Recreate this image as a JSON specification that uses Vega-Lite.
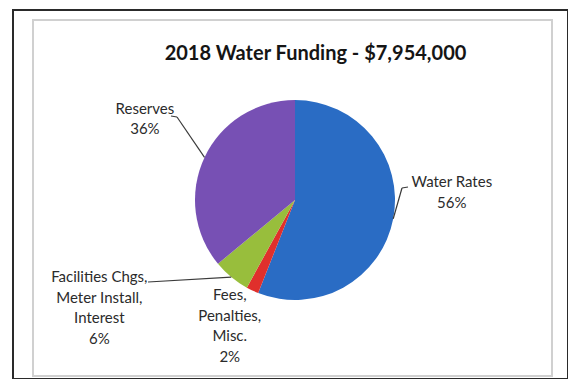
{
  "$schema": "https://vega.github.io/schema/vega-lite/v6.json",
  "width": 555,
  "height": 369,
  "autosize": {"type": "none"},
  "padding": {"left": 13, "top": 10, "right": 0, "bottom": 0},
  "background": "white",
  "title": {
    "text": "2018 Water Funding - $7,954,000",
    "font": "Lato",
    "fontSize": 20,
    "fontWeight": "bold",
    "color": "#151515",
    "anchor": "middle",
    "frame": "group",
    "baseline": "alphabetic",
    "offset": 0,
    "dx": 25,
    "dy": 70
  },
  "config": {"view": {"stroke": "#2a2a2a", "strokeWidth": 2}},
  "data": {
    "values": [
      {"cat": "Water Rates", "value": 56, "order": 1, "label": "Water Rates\n56%"},
      {"cat": "Fees", "value": 2, "order": 2, "label": "Fees,\nPenalties,\nMisc.\n2%"},
      {"cat": "Facilities", "value": 6, "order": 3, "label": "Facilities Chgs,\nMeter Install,\nInterest\n6%"},
      {"cat": "Reserves", "value": 36, "order": 4, "label": "Reserves\n36%"}
    ]
  },
  "transform": [
    {"stack": "value", "groupby": [], "sort": [{"field": "order", "order": "ascending"}], "as": ["v0", "v1"]},
    {"calculate": "(datum.v0 + datum.v1) / 2", "as": "mid"},
    {"calculate": "datum.mid / 100 * 2 * PI", "as": "a"},
    {"calculate": "100 * sin(datum.a)", "as": "sx"},
    {"calculate": "100 * cos(datum.a)", "as": "sy"},
    {"calculate": "datum.cat === 'Reserves' ? -118 : datum.cat === 'Water Rates' ? 107 : -147", "as": "ex"},
    {"calculate": "datum.cat === 'Reserves' ? 83 : datum.cat === 'Water Rates' ? 12 : -82", "as": "ey"},
    {"calculate": "datum.cat === 'Reserves' ? -124 : datum.cat === 'Water Rates' ? 113 : -147", "as": "tx"},
    {"calculate": "datum.cat === 'Reserves' ? 84 : datum.cat === 'Water Rates' ? 13 : -82", "as": "ty"}
  ],
  "layer": [
    {
      "transform": [{"filter": "datum.order === 1"}],
      "mark": {"type": "rect", "fillOpacity": 0, "stroke": "#d0d0d0", "strokeWidth": 2},
      "encoding": {
        "x": {"datum": -262, "type": "quantitative", "scale": {"domain": [-282, 273], "nice": false, "zero": false}, "axis": null},
        "x2": {"datum": 257},
        "y": {"datum": 180, "type": "quantitative", "scale": {"domain": [-179, 190], "nice": false, "zero": false}, "axis": null},
        "y2": {"datum": -176}
      }
    },
    {
      "mark": {"type": "arc", "outerRadius": 100},
      "encoding": {
        "x": {"datum": 0, "type": "quantitative", "axis": null},
        "y": {"datum": 0, "type": "quantitative", "axis": null},
        "theta": {"field": "v0", "type": "quantitative", "stack": null, "scale": {"domain": [0, 100]}},
        "theta2": {"field": "v1"},
        "color": {
          "field": "cat",
          "type": "nominal",
          "scale": {"domain": ["Water Rates", "Fees", "Facilities", "Reserves"], "range": ["#2a6cc4", "#e0302c", "#98be3c", "#7750b4"]},
          "legend": null
        }
      }
    },
    {
      "transform": [{"filter": "datum.cat !== 'Fees'"}],
      "mark": {"type": "rule", "color": "#3a3a3a", "strokeWidth": 1.2},
      "encoding": {
        "x": {"field": "sx", "type": "quantitative", "axis": null},
        "y": {"field": "sy", "type": "quantitative", "axis": null},
        "x2": {"field": "ex"},
        "y2": {"field": "ey"}
      }
    },
    {
      "transform": [{"filter": "datum.cat === 'Reserves' || datum.cat === 'Water Rates'"}],
      "mark": {"type": "rule", "color": "#3a3a3a", "strokeWidth": 1.2},
      "encoding": {
        "x": {"field": "ex", "type": "quantitative", "axis": null},
        "y": {"field": "ey", "type": "quantitative", "axis": null},
        "x2": {"field": "tx"},
        "y2": {"field": "ty"}
      }
    },
    {
      "transform": [{"filter": "datum.cat === 'Reserves'"}],
      "mark": {"type": "text", "font": "Lato", "fontSize": 15, "color": "#2b2b2b", "align": "center", "baseline": "middle", "lineBreak": "\n", "lineHeight": 20.5, "radius": 125, "dx": -37, "dy": -38},
      "encoding": {
        "x": {"datum": 0, "type": "quantitative", "axis": null},
        "y": {"datum": 0, "type": "quantitative", "axis": null},
        "theta": {"field": "mid", "type": "quantitative"},
        "text": {"field": "label"}
      }
    },
    {
      "transform": [{"filter": "datum.cat === 'Water Rates'"}],
      "mark": {"type": "text", "font": "Lato", "fontSize": 15, "color": "#2b2b2b", "align": "center", "baseline": "middle", "lineBreak": "\n", "lineHeight": 20.5, "radius": 125, "dx": 34, "dy": -41},
      "encoding": {
        "x": {"datum": 0, "type": "quantitative", "axis": null},
        "y": {"datum": 0, "type": "quantitative", "axis": null},
        "theta": {"field": "mid", "type": "quantitative"},
        "text": {"field": "label"}
      }
    },
    {
      "transform": [{"filter": "datum.cat === 'Facilities'"}],
      "mark": {"type": "text", "font": "Lato", "fontSize": 15, "color": "#2b2b2b", "align": "center", "baseline": "middle", "lineBreak": "\n", "lineHeight": 20.5, "radius": 125, "dx": -116, "dy": -19},
      "encoding": {
        "x": {"datum": 0, "type": "quantitative", "axis": null},
        "y": {"datum": 0, "type": "quantitative", "axis": null},
        "theta": {"field": "mid", "type": "quantitative"},
        "text": {"field": "label"}
      }
    },
    {
      "transform": [{"filter": "datum.cat === 'Fees'"}],
      "mark": {"type": "text", "font": "Lato", "fontSize": 15, "color": "#2b2b2b", "align": "center", "baseline": "middle", "lineBreak": "\n", "lineHeight": 20.5, "radius": 125, "dx": -12, "dy": -18},
      "encoding": {
        "x": {"datum": 0, "type": "quantitative", "axis": null},
        "y": {"datum": 0, "type": "quantitative", "axis": null},
        "theta": {"field": "mid", "type": "quantitative"},
        "text": {"field": "label"}
      }
    }
  ]
}
